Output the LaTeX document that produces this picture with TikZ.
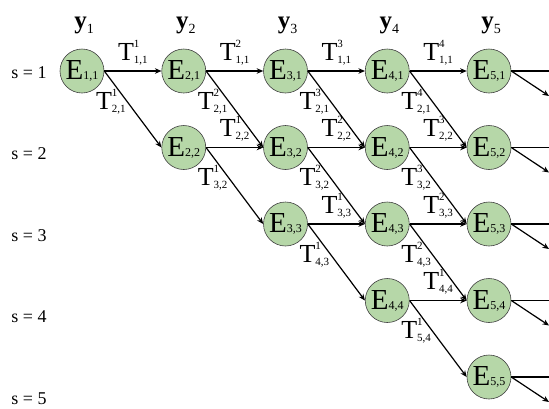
\documentclass[tikz,border=0pt]{standalone}
\usepackage{fontspec}
\setmainfont{Liberation Serif}
\usetikzlibrary{arrows.meta}
\definecolor{nodegreen}{RGB}{182,215,168}
\newcommand\Tlab[2]{{\fontsize{26}{26}\selectfont T}\makebox[0pt][l]{\raisebox{13pt}{\fontsize{11}{11}\selectfont #1}}\raisebox{-3pt}{\fontsize{11}{11}\selectfont #2}}
\newcommand\Elab[1]{{\fontsize{29}{29}\selectfont E}{\fontsize{12}{12}\selectfont #1}}
\newcommand\Ylab[1]{{\fontsize{25}{25}\selectfont\bfseries y}\raisebox{-5pt}{\fontsize{14}{14}\selectfont #1}}
\begin{document}
\begin{tikzpicture}[x=1pt,y=-1pt,
  state/.style={circle,draw=black!75,line width=0.6pt,fill=nodegreen,minimum size=44pt,inner sep=0pt},
  link/.style={line width=1.2pt,-{Stealth[length=6.5pt,width=5.5pt]}},
  hlab/.style={anchor=base,yshift=11pt,inner sep=0pt},
  dlab/.style={anchor=base,xshift=-22pt,inner sep=0pt},
  rowlab/.style={anchor=base,inner sep=0pt,font=\fontsize{18}{18}\selectfont},
  collab/.style={anchor=base,inner sep=0pt}]
\useasboundingbox (0,0) rectangle (549,408);
\foreach \i in {1,...,5}{
  \foreach \j in {1,...,\i}{
    \node[state] (E\i\j) at ({82+101.75*(\i-1)},{71+76.5*(\j-1)}) {\Elab{\i,\j}};
  }
  \node[collab] (y\i) at ({84+101.75*(\i-1)},28) {\Ylab{\i}};
  \node[rowlab] (s\i) at (29,{78+81.5*(\i-1)}) {s = \i};
}
\foreach \i in {1,...,4}{
  \foreach \j in {1,...,\i}{
    \pgfmathtruncatemacro\ni{\i+1}
    \pgfmathtruncatemacro\nj{\j+1}
    \pgfmathtruncatemacro\k{\i-\j+1}
    \draw[link] (E\i\j.east) -- node[hlab]{\Tlab{\k}{\j,\j}} (E\ni\j.west);
    \draw[link] (E\i\j.east) -- node[dlab,pos=0.5]{\Tlab{\k}{\nj,\j}} (E\ni\nj.west);
  }
}
\foreach \j in {1,...,5}{
  \coordinate (h\j) at (558,{71+76.5*(\j-1)});
  \coordinate (d\j) at (549,{96+76.5*(\j-1)});
  \draw[link] (E5\j.east) -- (h\j);
  \draw[link] (E5\j.east) -- (d\j);
}
\end{tikzpicture}
\end{document}
